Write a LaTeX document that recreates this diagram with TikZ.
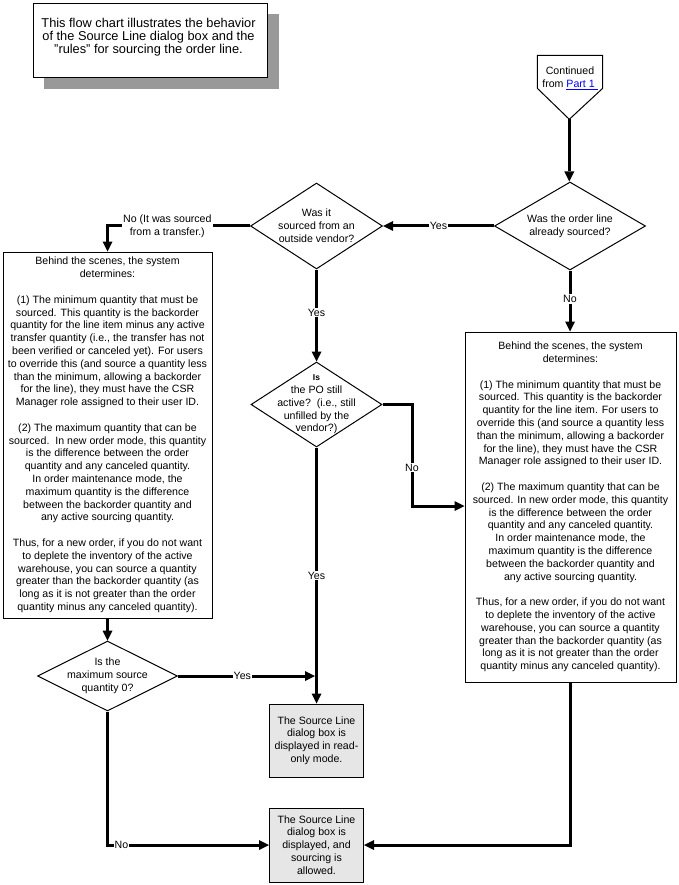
\documentclass[tikz,border=0pt]{standalone}
\usepackage{fontspec}
\setmainfont{Liberation Sans}
\usetikzlibrary{arrows.meta,shapes.geometric}
\definecolor{shadowgray}{RGB}{153,153,153}
\definecolor{boxgray}{RGB}{230,230,230}
\definecolor{linkblue}{RGB}{0,0,255}
\begin{document}
\begin{tikzpicture}[x=1pt,y=-1pt,
  txt/.style={font=\fontsize{10.6}{12.8}\selectfont, align=center, inner sep=0pt},
  shapeline/.style={draw=black, line width=1pt},
  bigbox/.style={shapeline, rectangle, fill=white, inner sep=0pt, txt},
  resbox/.style={shapeline, rectangle, fill=boxgray, inner sep=0pt, txt, minimum width=94pt},
  dia/.style={shapeline, diamond, fill=white, inner sep=0pt},
  conn/.style={line width=3pt, -{Triangle[length=10pt,width=10pt,line width=0pt]}},
  lbl/.style={txt, fill=white, inner xsep=1pt, inner ysep=1pt}
]
\useasboundingbox (0,0) rectangle (678,885);
\fill[white] (0,0) rectangle (678,885);

% note with shadow
\fill[shadowgray] (44,14) rectangle (279,89);
\node[shapeline, fill=white, minimum width=234.4pt, minimum height=74pt, inner sep=0pt] (note) at (150.5,40.3) {};
\node[inner sep=0pt, align=center, font=\fontsize{12.8}{13.2}\selectfont] (notetext) at (148.5,37)
  {This flow chart illustrates the behavior\\of the Source Line dialog box and the\\{\char34}rules{\char34} for sourcing the order line.};

% off-page connector
\draw[shapeline, fill=white] (537.3,55.3) -- (602.7,55.3) -- (602.7,88.3) -- (569.3,119.3) -- (537.3,88.3) -- cycle;
\coordinate (ptip) at (569.3,119.3);
\node[txt] (cont) at (570,78.5) {Continued\\from \textcolor{linkblue}{\underline{Part 1\ }}};

% decisions
\node[dia, minimum width=151pt, minimum height=88pt,
  label={[txt,name=d1t]center:Was the order line\\already sourced?}] (d1) at (570,226) {};
\node[dia, minimum width=132pt, minimum height=86pt,
  label={[txt,name=d2t]center:Was it\\sourced from an\\outside vendor?}] (d2) at (316.5,226) {};
\node[dia, minimum width=131pt, minimum height=85pt,
  label={[txt,name=d4t]center:{\bfseries\fontsize{8.5}{8.5}\selectfont Is}\\the PO still\\active?\ \ (i.e., still\\unfilled by the\\vendor?)}] (d4) at (316.5,404.5) {};
\node[dia, minimum width=140pt, minimum height=70pt,
  label={[txt,name=d3t]center:Is the\\maximum source\\quantity 0?}] (d3) at (107.5,676) {};

% big boxes
\node[bigbox, minimum width=209pt, minimum height=366pt] (boxL) at (107.5,435) {%
Behind the scenes, the system\\determines:\\~\\
(1) The minimum quantity that must be\\
sourced. This quantity is the backorder\\
quantity for the line item minus any active\\
transfer quantity (i.e., the transfer has not\\
been verified or canceled yet). For users\\
to override this (and source a quantity less\\
than the minimum, allowing a backorder\\
for the line), they must have the CSR\\
Manager role assigned to their user ID.\\~\\
(2) The maximum quantity that can be\\
sourced.\ \ In new order mode, this quantity\\
is the difference between the order\\
quantity and any canceled quantity.\\
In order maintenance mode, the\\
maximum quantity is the difference\\
between the backorder quantity and\\
any active sourcing quantity.\\~\\
Thus, for a new order, if you do not want\\
to deplete the inventory of the active\\
warehouse, you can source a quantity\\
greater than the backorder quantity (as\\
long as it is not greater than the order\\
quantity minus any canceled quantity).};

\node[bigbox, minimum width=211pt, minimum height=350pt] (boxR) at (570.5,507) {%
Behind the scenes, the system\\determines:\\~\\
(1) The minimum quantity that must be\\
sourced. This quantity is the backorder\\
quantity for the line item. For users to\\
override this (and source a quantity less\\
than the minimum, allowing a backorder\\
for the line), they must have the CSR\\
Manager role assigned to their user ID.\\~\\
(2) The maximum quantity that can be\\
sourced. In new order mode, this quantity\\
is the difference between the order\\
quantity and any canceled quantity.\\
In order maintenance mode, the\\
maximum quantity is the difference\\
between the backorder quantity and\\
any active sourcing quantity.\\~\\
Thus, for a new order, if you do not want\\
to deplete the inventory of the active\\
warehouse, you can source a quantity\\
greater than the backorder quantity (as\\
long as it is not greater than the order\\
quantity minus any canceled quantity).};

% result boxes
\node[resbox, minimum height=73pt] (ro) at (316.5,740.5)
  {The Source Line\\dialog box is\\displayed in read-\\only mode.};
\node[resbox, minimum height=74pt] (sa) at (316.5,845)
  {The Source Line\\dialog box is\\displayed, and\\sourcing is\\allowed.};

% connectors
\coordinate (k1) at (412,506);
\draw[conn] (ptip) -- (ptip |- d1.north);
\draw[conn] (d1.west) -- node[lbl, pos=0.5]{Yes} (d2.east);
\draw[conn] (d1.south) -- node[lbl, pos=0.47]{No} (d1.south |- boxR.north);
\draw[conn] (d2.west) -| node[lbl, pos=0.29]{No (It was sourced\\from a transfer.)} (boxL.north);
\draw[conn] (d2.south) -- node[lbl, pos=0.47]{Yes} (d4.north);
\draw[conn] (d4.east) -| node[lbl, pos=0.81]{No} (k1) -- (k1 -| boxR.west);
\draw[conn] (d4.south) -- node[lbl, pos=0.5]{Yes} (d4.south |- ro.north);
\draw[conn] (boxL.south) -- (boxL.south |- d3.north);
\draw[conn] (d3.east) -- node[lbl, pos=0.47]{Yes} ([xshift=-1.5pt]d4.south |- d3.east);
\draw[conn] (d3.south) |- node[lbl, pos=0.543]{No} (sa.west);
\draw[conn] (boxR.south) |- (sa.east);
\end{tikzpicture}
\end{document}
